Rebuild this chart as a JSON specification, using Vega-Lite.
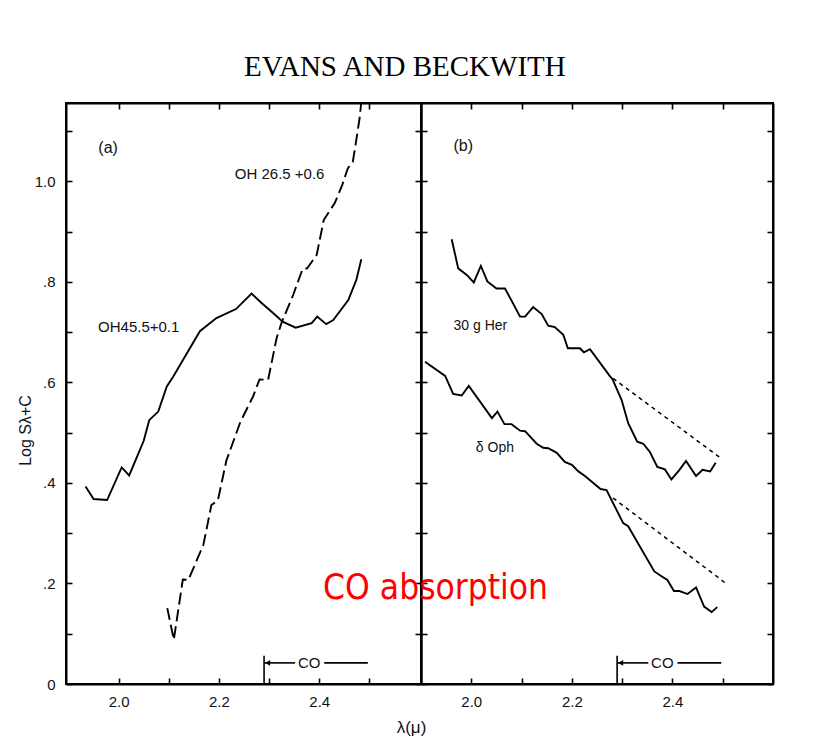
{
  "$schema": "https://vega.github.io/schema/vega-lite/v6.json",
  "autosize": {"type": "pad"},
  "padding": {"left": 16, "top": 53, "right": 0, "bottom": 0},
  "background": "white",
  "title": {
    "text": "EVANS AND BECKWITH",
    "font": "Liberation Serif",
    "fontSize": 29,
    "fontWeight": "normal",
    "color": "#000",
    "anchor": "middle",
    "baseline": "alphabetic",
    "offset": -4,
    "dx": 9.5
  },
  "config": {
    "view": {"stroke": "black", "strokeWidth": 2},
    "axis": {
      "domainColor": "black",
      "domainWidth": 2,
      "tickColor": "black",
      "tickWidth": 1.6,
      "tickSize": -6,
      "grid": false,
      "labelFont": "Liberation Sans",
      "labelFontSize": 15,
      "labelColor": "#111",
      "titleFont": "Liberation Sans",
      "titleFontWeight": "normal",
      "titleColor": "#111"
    },
    "text": {"font": "Liberation Sans", "color": "#111"}
  },
  "datasets": {
    "oh45": [
      {"lam": 1.934, "v": 0.393}, {"lam": 1.950, "v": 0.368}, {"lam": 1.977, "v": 0.366},
      {"lam": 2.006, "v": 0.431}, {"lam": 2.021, "v": 0.415}, {"lam": 2.050, "v": 0.484},
      {"lam": 2.061, "v": 0.525}, {"lam": 2.079, "v": 0.542}, {"lam": 2.096, "v": 0.592},
      {"lam": 2.109, "v": 0.612}, {"lam": 2.162, "v": 0.702}, {"lam": 2.195, "v": 0.728},
      {"lam": 2.234, "v": 0.746}, {"lam": 2.265, "v": 0.777}, {"lam": 2.285, "v": 0.758},
      {"lam": 2.308, "v": 0.738}, {"lam": 2.327, "v": 0.721}, {"lam": 2.353, "v": 0.709},
      {"lam": 2.385, "v": 0.718}, {"lam": 2.396, "v": 0.731}, {"lam": 2.414, "v": 0.716},
      {"lam": 2.428, "v": 0.724}, {"lam": 2.458, "v": 0.764}, {"lam": 2.474, "v": 0.804},
      {"lam": 2.484, "v": 0.845}
    ],
    "oh26": [
      {"lam": 2.097, "v": 0.151}, {"lam": 2.110, "v": 0.088}, {"lam": 2.128, "v": 0.208},
      {"lam": 2.139, "v": 0.207}, {"lam": 2.169, "v": 0.277}, {"lam": 2.185, "v": 0.356},
      {"lam": 2.198, "v": 0.366}, {"lam": 2.215, "v": 0.445}, {"lam": 2.243, "v": 0.522},
      {"lam": 2.268, "v": 0.572}, {"lam": 2.281, "v": 0.606}, {"lam": 2.298, "v": 0.605},
      {"lam": 2.315, "v": 0.688}, {"lam": 2.325, "v": 0.719}, {"lam": 2.348, "v": 0.774},
      {"lam": 2.367, "v": 0.826}, {"lam": 2.376, "v": 0.827}, {"lam": 2.395, "v": 0.854},
      {"lam": 2.409, "v": 0.923}, {"lam": 2.431, "v": 0.957}, {"lam": 2.446, "v": 0.993},
      {"lam": 2.457, "v": 1.026}, {"lam": 2.467, "v": 1.039}, {"lam": 2.473, "v": 1.076},
      {"lam": 2.481, "v": 1.129}, {"lam": 2.486, "v": 1.18}
    ],
    "her": [
      {"lam": 1.961, "v": 0.885}, {"lam": 1.974, "v": 0.827}, {"lam": 1.991, "v": 0.814},
      {"lam": 2.005, "v": 0.799}, {"lam": 2.019, "v": 0.832}, {"lam": 2.032, "v": 0.801},
      {"lam": 2.050, "v": 0.787}, {"lam": 2.067, "v": 0.787}, {"lam": 2.097, "v": 0.731},
      {"lam": 2.107, "v": 0.731}, {"lam": 2.123, "v": 0.750}, {"lam": 2.140, "v": 0.736},
      {"lam": 2.153, "v": 0.713}, {"lam": 2.166, "v": 0.710}, {"lam": 2.183, "v": 0.695},
      {"lam": 2.192, "v": 0.668}, {"lam": 2.216, "v": 0.668}, {"lam": 2.224, "v": 0.660},
      {"lam": 2.236, "v": 0.666}, {"lam": 2.276, "v": 0.612}, {"lam": 2.281, "v": 0.606},
      {"lam": 2.299, "v": 0.565}, {"lam": 2.312, "v": 0.519}, {"lam": 2.330, "v": 0.482},
      {"lam": 2.342, "v": 0.478}, {"lam": 2.355, "v": 0.462}, {"lam": 2.370, "v": 0.432},
      {"lam": 2.385, "v": 0.427}, {"lam": 2.398, "v": 0.407}, {"lam": 2.414, "v": 0.426},
      {"lam": 2.427, "v": 0.444}, {"lam": 2.447, "v": 0.414}, {"lam": 2.460, "v": 0.426},
      {"lam": 2.475, "v": 0.423}, {"lam": 2.486, "v": 0.440}
    ],
    "herExt": [{"lam": 2.282, "v": 0.608}, {"lam": 2.494, "v": 0.451}],
    "oph": [
      {"lam": 1.908, "v": 0.641}, {"lam": 1.948, "v": 0.613}, {"lam": 1.964, "v": 0.577},
      {"lam": 1.981, "v": 0.574}, {"lam": 1.995, "v": 0.593}, {"lam": 2.041, "v": 0.529},
      {"lam": 2.052, "v": 0.542}, {"lam": 2.066, "v": 0.517}, {"lam": 2.080, "v": 0.517},
      {"lam": 2.097, "v": 0.504}, {"lam": 2.107, "v": 0.503}, {"lam": 2.130, "v": 0.478},
      {"lam": 2.143, "v": 0.470}, {"lam": 2.153, "v": 0.469}, {"lam": 2.170, "v": 0.460},
      {"lam": 2.186, "v": 0.442}, {"lam": 2.200, "v": 0.436}, {"lam": 2.213, "v": 0.423},
      {"lam": 2.226, "v": 0.414}, {"lam": 2.257, "v": 0.388}, {"lam": 2.269, "v": 0.386},
      {"lam": 2.302, "v": 0.320}, {"lam": 2.312, "v": 0.314}, {"lam": 2.339, "v": 0.267},
      {"lam": 2.364, "v": 0.224}, {"lam": 2.379, "v": 0.214}, {"lam": 2.390, "v": 0.207},
      {"lam": 2.403, "v": 0.185}, {"lam": 2.414, "v": 0.185}, {"lam": 2.430, "v": 0.179},
      {"lam": 2.447, "v": 0.192}, {"lam": 2.463, "v": 0.154}, {"lam": 2.478, "v": 0.143},
      {"lam": 2.489, "v": 0.153}
    ],
    "ophExt": [{"lam": 2.282, "v": 0.370}, {"lam": 2.504, "v": 0.202}],
    "coSeg": [
      {"lam": 2.29, "lam2": 2.29, "v": 0, "v2": 0.056},
      {"lam": 2.29, "lam2": 2.352, "v": 0.042, "v2": 0.042},
      {"lam": 2.41, "lam2": 2.497, "v": 0.042, "v2": 0.042}
    ],
    "coArrow": [{"lam": 2.297, "v": 0.042}],
    "coText": [{"lam": 2.38, "v": 0.042, "text": "CO"}],
    "panelTags": [
      {"panel": "a", "lam": 1.979, "v": 1.066, "text": "(a)"},
      {"panel": "b", "lam": 1.984, "v": 1.071, "text": "(b)"}
    ],
    "seriesTags": [
      {"panel": "a", "lam": 2.321, "v": 1.015, "text": "OH 26.5 +0.6"},
      {"panel": "a", "lam": 2.040, "v": 0.710, "text": "OH45.5+0.1"},
      {"panel": "b", "lam": 2.018, "v": 0.712, "text": "30 g Her"},
      {"panel": "b", "lam": 2.047, "v": 0.469, "text": "δ Oph"}
    ],
    "note": [{"lam": 1.929, "v": 0.169, "text": "CO absorption"}]
  },
  "spacing": 0,
  "bounds": "flush",
  "hconcat": [
    {
      "width": 355,
      "height": 581,
      "resolve": {"axis": {"x": "independent", "y": "independent"}},
      "layer": [
        {
          "data": {"name": "oh45"},
          "mark": {"type": "line", "color": "black", "strokeWidth": 1.9, "clip": true},
          "encoding": {
            "x": {
              "field": "lam", "type": "quantitative",
              "scale": {"domain": [1.895, 2.603], "nice": false, "zero": false},
              "axis": {
                "orient": "bottom",
                "values": [2.0, 2.1, 2.2, 2.3, 2.4, 2.5],
                "labelExpr": "round(datum.value*10) % 2 == 0 ? format(datum.value, '.1f') : ''",
                "labelPadding": 16,
                "labelBaseline": "top",
                "title": "λ(μ)",
                "titleFontSize": 17,
                "titleX": 345,
                "titleY": 43,
                "titleAlign": "center",
                "titleBaseline": "middle"
              }
            },
            "y": {
              "field": "v", "type": "quantitative",
              "scale": {"domain": [0, 1.156], "nice": false},
              "axis": {
                "orient": "left",
                "values": [0, 0.1, 0.2, 0.3, 0.4, 0.5, 0.6, 0.7, 0.8, 0.9, 1.0, 1.1],
                "labelExpr": "datum.value == 0 ? '0' : (round(datum.value*10) % 2 == 0 ? (datum.value >= 0.99 ? format(datum.value, '.1f') : replace(format(datum.value, '.1f'), '0.', '.')) : '')",
                "labelPadding": 17,
                "title": "Log Sλ+C",
                "titleFontSize": 16,
                "titleX": -41,
                "titleY": 327,
                "titleAngle": -90,
                "titleAlign": "center",
                "titleBaseline": "middle"
              }
            }
          }
        },
        {
          "data": {"name": "oh26"},
          "mark": {"type": "line", "color": "black", "strokeWidth": 1.9, "strokeDash": [12, 5], "clip": true},
          "encoding": {
            "x": {
              "field": "lam", "type": "quantitative",
              "axis": {"orient": "top", "values": [2.0, 2.1, 2.2, 2.3, 2.4, 2.5], "labels": false, "title": null}
            },
            "y": {
              "field": "v", "type": "quantitative",
              "axis": {"orient": "right", "values": [0, 0.1, 0.2, 0.3, 0.4, 0.5, 0.6, 0.7, 0.8, 0.9, 1.0, 1.1], "labels": false, "title": null}
            }
          }
        },
        {
          "data": {"name": "coSeg"},
          "mark": {"type": "rule", "color": "black", "strokeWidth": 1.6},
          "encoding": {
            "x": {"field": "lam", "type": "quantitative", "axis": null},
            "x2": {"field": "lam2"},
            "y": {"field": "v", "type": "quantitative", "axis": null},
            "y2": {"field": "v2"}
          }
        },
        {
          "data": {"name": "coArrow"},
          "mark": {"type": "point", "shape": "triangle-left", "filled": true, "color": "black", "size": 35, "opacity": 1},
          "encoding": {
            "x": {"field": "lam", "type": "quantitative", "axis": null},
            "y": {"field": "v", "type": "quantitative", "axis": null}
          }
        },
        {
          "data": {"name": "coText"},
          "mark": {"type": "text", "fontSize": 15, "align": "center", "baseline": "middle"},
          "encoding": {
            "x": {"field": "lam", "type": "quantitative", "axis": null},
            "y": {"field": "v", "type": "quantitative", "axis": null},
            "text": {"field": "text"}
          }
        },
        {
          "data": {"name": "panelTags"},
          "transform": [{"filter": "datum.panel == 'a'"}],
          "mark": {"type": "text", "fontSize": 16, "align": "center", "baseline": "middle"},
          "encoding": {
            "x": {"field": "lam", "type": "quantitative", "axis": null},
            "y": {"field": "v", "type": "quantitative", "axis": null},
            "text": {"field": "text"}
          }
        },
        {
          "data": {"name": "seriesTags"},
          "transform": [{"filter": "datum.panel == 'a'"}],
          "mark": {"type": "text", "fontSize": 15, "align": "center", "baseline": "middle"},
          "encoding": {
            "x": {"field": "lam", "type": "quantitative", "axis": null},
            "y": {"field": "v", "type": "quantitative", "axis": null},
            "text": {"field": "text"}
          }
        }
      ]
    },
    {
      "width": 352,
      "height": 581,
      "resolve": {"axis": {"x": "independent", "y": "independent"}},
      "layer": [
        {
          "data": {"name": "her"},
          "mark": {"type": "line", "color": "black", "strokeWidth": 1.9},
          "encoding": {
            "x": {
              "field": "lam", "type": "quantitative",
              "scale": {"domain": [1.9, 2.6], "nice": false, "zero": false},
              "axis": {
                "orient": "bottom",
                "values": [2.0, 2.1, 2.2, 2.3, 2.4, 2.5],
                "labelExpr": "round(datum.value*10) % 2 == 0 ? format(datum.value, '.1f') : ''",
                "labelPadding": 16,
                "labelBaseline": "top",
                "title": null
              }
            },
            "y": {
              "field": "v", "type": "quantitative",
              "scale": {"domain": [0, 1.156], "nice": false},
              "axis": {"orient": "left", "values": [0, 0.1, 0.2, 0.3, 0.4, 0.5, 0.6, 0.7, 0.8, 0.9, 1.0, 1.1], "labels": false, "title": null}
            }
          }
        },
        {
          "data": {"name": "oph"},
          "mark": {"type": "line", "color": "black", "strokeWidth": 1.9},
          "encoding": {
            "x": {
              "field": "lam", "type": "quantitative",
              "axis": {"orient": "top", "values": [2.0, 2.1, 2.2, 2.3, 2.4, 2.5], "labels": false, "title": null}
            },
            "y": {
              "field": "v", "type": "quantitative",
              "axis": {"orient": "right", "values": [0, 0.1, 0.2, 0.3, 0.4, 0.5, 0.6, 0.7, 0.8, 0.9, 1.0, 1.1], "labels": false, "title": null}
            }
          }
        },
        {
          "data": {"name": "herExt"},
          "mark": {"type": "line", "color": "black", "strokeWidth": 1.5, "strokeDash": [4, 4]},
          "encoding": {
            "x": {"field": "lam", "type": "quantitative", "axis": null},
            "y": {"field": "v", "type": "quantitative", "axis": null}
          }
        },
        {
          "data": {"name": "ophExt"},
          "mark": {"type": "line", "color": "black", "strokeWidth": 1.5, "strokeDash": [4, 4]},
          "encoding": {
            "x": {"field": "lam", "type": "quantitative", "axis": null},
            "y": {"field": "v", "type": "quantitative", "axis": null}
          }
        },
        {
          "data": {"name": "coSeg"},
          "mark": {"type": "rule", "color": "black", "strokeWidth": 1.6},
          "encoding": {
            "x": {"field": "lam", "type": "quantitative", "axis": null},
            "x2": {"field": "lam2"},
            "y": {"field": "v", "type": "quantitative", "axis": null},
            "y2": {"field": "v2"}
          }
        },
        {
          "data": {"name": "coArrow"},
          "mark": {"type": "point", "shape": "triangle-left", "filled": true, "color": "black", "size": 35, "opacity": 1},
          "encoding": {
            "x": {"field": "lam", "type": "quantitative", "axis": null},
            "y": {"field": "v", "type": "quantitative", "axis": null}
          }
        },
        {
          "data": {"name": "coText"},
          "mark": {"type": "text", "fontSize": 15, "align": "center", "baseline": "middle"},
          "encoding": {
            "x": {"field": "lam", "type": "quantitative", "axis": null},
            "y": {"field": "v", "type": "quantitative", "axis": null},
            "text": {"field": "text"}
          }
        },
        {
          "data": {"name": "panelTags"},
          "transform": [{"filter": "datum.panel == 'b'"}],
          "mark": {"type": "text", "fontSize": 16, "align": "center", "baseline": "middle"},
          "encoding": {
            "x": {"field": "lam", "type": "quantitative", "axis": null},
            "y": {"field": "v", "type": "quantitative", "axis": null},
            "text": {"field": "text"}
          }
        },
        {
          "data": {"name": "seriesTags"},
          "transform": [{"filter": "datum.panel == 'b'"}],
          "mark": {"type": "text", "fontSize": 14, "align": "center", "baseline": "middle"},
          "encoding": {
            "x": {"field": "lam", "type": "quantitative", "axis": null},
            "y": {"field": "v", "type": "quantitative", "axis": null},
            "text": {"field": "text"}
          }
        },
        {
          "data": {"name": "note"},
          "mark": {"type": "text", "font": "DejaVu Sans Condensed, Roboto Condensed, Roboto, sans-serif", "fontSize": 35, "color": "#ff0000", "align": "center", "baseline": "alphabetic"},
          "encoding": {
            "x": {"field": "lam", "type": "quantitative", "axis": null},
            "y": {"field": "v", "type": "quantitative", "axis": null},
            "text": {"field": "text"}
          }
        }
      ]
    }
  ]
}
